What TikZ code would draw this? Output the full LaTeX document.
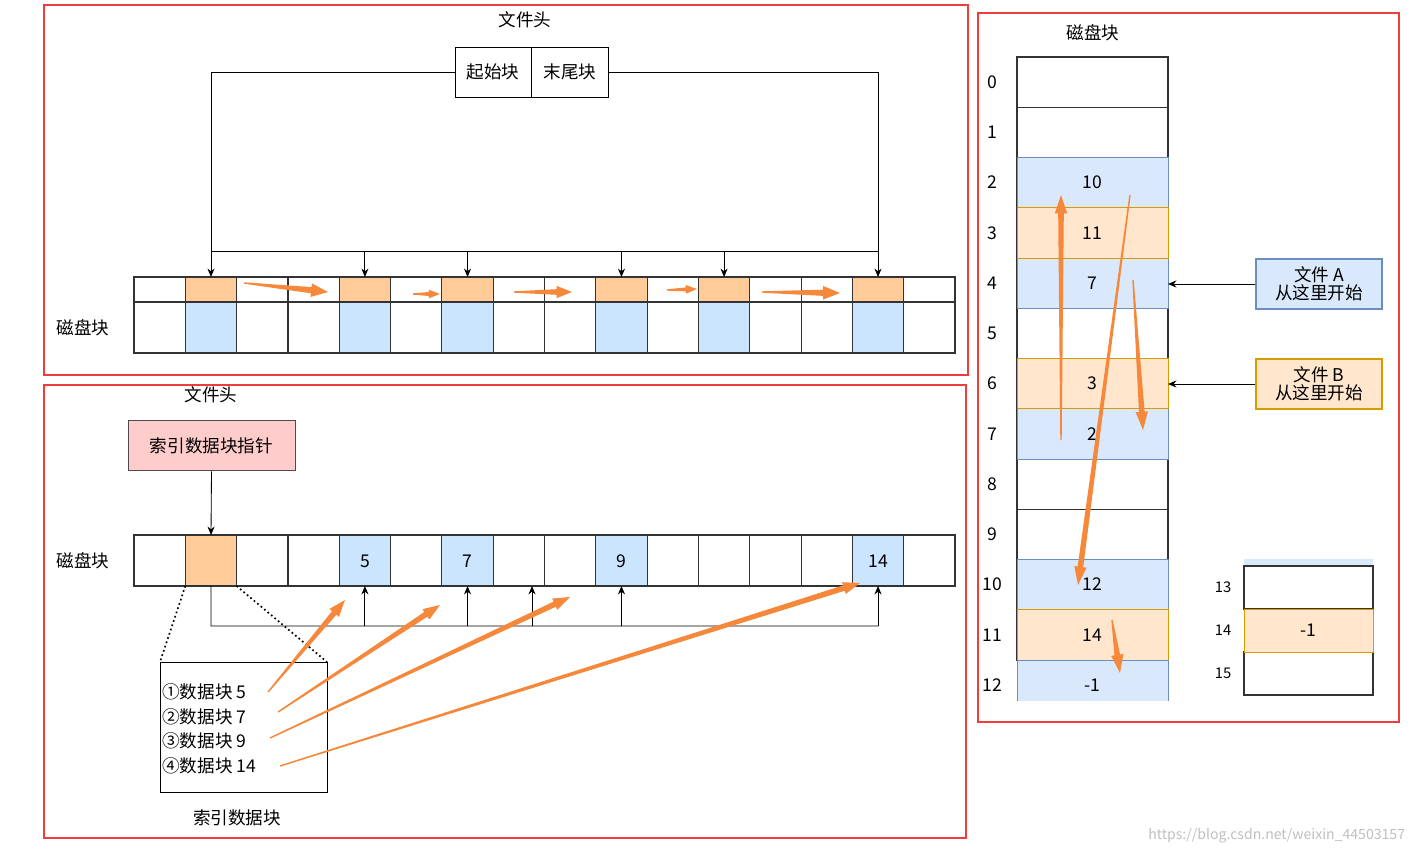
\documentclass[tikz,border=0pt]{standalone}
\usepackage{fontspec}
\setmainfont{Noto Sans CJK SC}
\usetikzlibrary{calc,arrows.meta}
\definecolor{redb}{HTML}{F03C3C}
\definecolor{ofill}{HTML}{FFCC99}
\definecolor{bfill}{HTML}{CCE5FF}
\definecolor{lblue}{HTML}{DAE8FC}
\definecolor{lblues}{HTML}{6C8EBF}
\definecolor{lor}{HTML}{FFE6CC}
\definecolor{lors}{HTML}{D79B00}
\definecolor{arr}{HTML}{F5883A}
\newcommand{\tarr}[4]{% start, end, halfwidth, headlen
 \fill[arr] ($(#1)!0.5pt!90:(#2)$) -- ($($(#2)!#4!(#1)$)!#3!90:(#2)$) -- ($($(#2)!#4!(#1)$)!2.2*#3!90:(#2)$) -- (#2) -- ($($(#2)!#4!(#1)$)!2.2*#3!-90:(#2)$) -- ($($(#2)!#4!(#1)$)!#3!-90:(#2)$) -- ($(#1)!0.5pt!-90:(#2)$) -- cycle;}
\begin{document}
\begin{tikzpicture}[x=0.025cm,y=-0.025cm,
 every node/.style={font=\fontsize{12.5}{14}\selectfont},
 frame/.style={draw=redb,line width=1.2pt},
 cell/.style={draw=black!80,line width=0.8pt},
 ar/.style={-{Stealth[length=6pt,width=5pt]},line width=0.6pt},
 ln/.style={line width=0.6pt},
 side/.style={line width=0.8pt,minimum width=3.15cm,minimum height=1.25cm,align=center,inner sep=0pt,font=\fontsize{12.5}{13}\selectfont}]
\useasboundingbox (0,0) rectangle (1416,855);
% ---------- top panel
\draw[frame] (44,5) rectangle (968,375);
\node (th) at (525,20) {文件头};
\draw[ln] (455,47) rectangle (531,97) (531,47) rectangle (608,97);
\node (s1) at (493,72) {起始块};
\node (s2) at (570,72) {末尾块};
\node (dk1) at (83,328) {磁盘块};
\foreach \i in {0,...,15}{
 \pgfmathsetmacro\xa{134+51.3125*\i}\pgfmathsetmacro\xb{134+51.3125*(\i+1)}
 \draw[cell] (\xa,277) rectangle (\xb,302) (\xa,302) rectangle (\xb,353);}
\foreach \i in {1,4,6,9,11,14}{
 \pgfmathsetmacro\xa{134+51.3125*\i}\pgfmathsetmacro\xb{134+51.3125*(\i+1)}
 \draw[cell,fill=ofill] (\xa,277) rectangle (\xb,302);
 \draw[cell,fill=bfill] (\xa,302) rectangle (\xb,353);
 \coordinate (t\i) at ({(\xa+\xb)/2},277);}
\coordinate (b1) at (210.9,251); \coordinate (b14) at (878.4,251);
\draw[ar] (455,72) -| (t1);
\draw[ar] (608,72) -| (t14);
\draw[ln] (b1) -- (b14);
\foreach \i in {4,6,9,11}{\draw[ar] (t\i|-b1) -- (t\i);}
\tarr{244,283}{328,292}{2.2pt}{12pt}
\tarr{413,294}{440,294}{1.4pt}{8pt}
\tarr{514,292}{572,292}{2pt}{11pt}
\tarr{667,290}{697,289}{1.4pt}{8pt}
\tarr{762,292}{840,293}{2.2pt}{12pt}
% ---------- bottom panel
\draw[frame] (44,385) rectangle (966,838);
\node (bh) at (211,395) {文件头};
\node[draw=black!70,fill=red!20,ln,minimum width=4.17cm,minimum height=1.27cm] (ptr) at (211.5,445.5) {索引数据块指针};
\node (dk2) at (83,561) {磁盘块};
\foreach \i in {0,...,15}{
 \pgfmathsetmacro\xa{134+51.3125*\i}\pgfmathsetmacro\xb{134+51.3125*(\i+1)}
 \draw[cell] (\xa,535) rectangle (\xb,586);
 \coordinate (c\i) at ({(\xa+\xb)/2},586);}
\draw[cell,fill=ofill] (185.3,535) rectangle (236.6,586);
\foreach \i/\t in {4/5,6/7,9/9,14/14}{
 \pgfmathsetmacro\xa{134+51.3125*\i}\pgfmathsetmacro\xb{134+51.3125*(\i+1)}
 \draw[cell,fill=bfill] (\xa,535) rectangle (\xb,586);
 \node at ({(\xa+\xb)/2},561) {\t};}
\coordinate (ot) at (211,535);
\draw[ar] (ptr.south) -- (ot);
\coordinate (bus0) at (211,626); \coordinate (bus1) at (878.4,626);
\draw[ln] (c1) -- (bus0) -- (bus1);
\foreach \i in {4,6,9,14}{\draw[ar] (c\i|-bus0) -- (c\i);}
\coordinate (m) at (532,626);
\draw[ar] (m) -- (532,586);
\draw[line width=1.2pt,dotted] (185.3,586) -- (160,662) (236.6,586) -- (327,662);
\node[draw,ln,minimum width=4.175cm,minimum height=3.25cm] (ib) at (243.5,727) {};
\node[anchor=west,inner sep=0pt] at (162,692) {①数据块 5};
\node[anchor=west,inner sep=0pt] at (162,717) {②数据块 7};
\node[anchor=west,inner sep=0pt] at (162,741) {③数据块 9};
\node[anchor=west,inner sep=0pt] at (162,766) {④数据块 14};
\node at (237,818) {索引数据块};
\tarr{268,692}{345,600}{2pt}{12pt}
\tarr{278,712}{440,605}{2pt}{12pt}
\tarr{270,738}{570,597}{2pt}{12pt}
\tarr{280,766}{860,583}{2pt}{12pt}
% ---------- right panel
\draw[frame] (978,13) rectangle (1399,722);
\node at (1093,33) {磁盘块};
\foreach \i in {0,...,11}{
 \pgfmathsetmacro\ya{57+50.25*\i}\pgfmathsetmacro\yb{57+50.25*(\i+1)}
 \draw[cell] (1017,\ya) rectangle (1168,\yb);}
\foreach \i in {2,4,7,10}{
 \pgfmathsetmacro\ya{57+50.25*\i}\pgfmathsetmacro\yb{57+50.25*(\i+1)}
 \draw[draw=lblues,fill=lblue] (1017,\ya) rectangle (1168,\yb);}
\foreach \i in {3,6,11}{
 \pgfmathsetmacro\ya{57+50.25*\i}\pgfmathsetmacro\yb{57+50.25*(\i+1)}
 \draw[draw=lors,fill=lor] (1017,\ya) rectangle (1168,\yb);}
\fill[lblue] (1017,660) rectangle (1168,701);
\draw[lblues] (1017,701) -- (1017,660) -- (1168,660) -- (1168,701);
\foreach \i in {0,...,12}{\node at (992,{82+50.25*\i}) {\i};}
\foreach \i/\t in {2/10,3/11,4/7,6/3,7/2,10/12,11/14,12/-1}{\node at (1092,{82+50.25*\i}) {\t};}
\fill[lblue] (1244,559) rectangle (1373,566);
\draw[cell] (1244,566) rectangle (1373,609) (1244,652) rectangle (1373,695);
\draw[draw=lors,fill=lor] (1244,609) rectangle (1373,652);
\node at (1308,630) {-1};
\node[font=\fontsize{10.5}{12}\selectfont] at (1223,587) {13};
\node[font=\fontsize{10.5}{12}\selectfont] at (1223,630) {14};
\node[font=\fontsize{10.5}{12}\selectfont] at (1223,673) {15};
\node[side,draw=lblues,fill=lblue] (fa) at (1319,284) {文件 A\\从这里开始};
\node[side,draw=lors,fill=lor] (fb) at (1319,384) {文件 B\\从这里开始};
\coordinate (pa) at (1168,284); \coordinate (pb) at (1168,384);
\draw[ar] (fa.west) -- (pa);
\draw[ar] (fb.west) -- (pb);
\tarr{1061,440}{1061,195}{2pt}{13pt}
\tarr{1130,195}{1078,585}{2pt}{13pt}
\tarr{1133,280}{1143,430}{2pt}{13pt}
\tarr{1112,620}{1120,673}{2pt}{13pt}
\node[anchor=east,text=black!25,font=\fontsize{10}{12}\selectfont] at (1410,836) {https://blog.csdn.net/weixin\_44503157};
\end{tikzpicture}
\end{document}
